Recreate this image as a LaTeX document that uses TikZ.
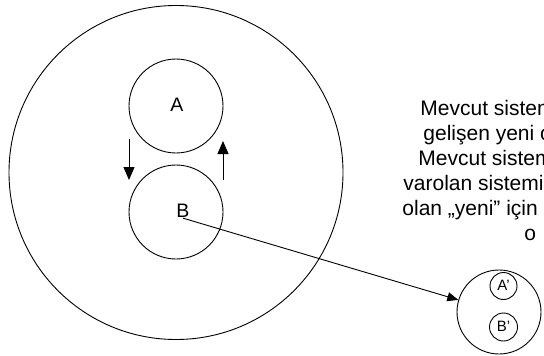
\documentclass[tikz,border=0pt]{standalone}
\usepackage{fontspec}
\setmainfont{Liberation Sans}
\usetikzlibrary{arrows.meta}
\begin{document}
\begin{tikzpicture}[x=1pt,y=-1pt,line width=0.9pt,
  ring/.style={draw,circle,inner sep=0pt},
  txt/.style={font=\fontsize{21}{25}\selectfont,anchor=base west,inner sep=0pt},
  lbl/.style={font=\fontsize{19.5}{22}\selectfont,inner sep=0pt},
  small/.style={font=\fontsize{15}{17}\selectfont,inner sep=0pt},
  arr/.style={-{Triangle[length=13pt,width=11pt]}},
  arrs/.style={-{Triangle[length=11pt,width=9pt]}}]
\useasboundingbox (0,0) rectangle (544,356);
\clip (0,0) rectangle (544,356);
\node[ring,minimum size=334pt] (outer) at (176,172.5) {};
\node[ring,minimum size=94pt] (A) at (176,106) {};
\node[lbl] (Alab) at (177,105) {A};
\node[ring,minimum size=94pt] (B) at (176,212) {};
\node[lbl] (Blab) at (183,211) {B};
\node[ring,minimum size=84pt] (sys) at (499,312) {};
\node[ring,minimum size=27pt] (A2) at (503.5,286) {};
\node[small] (A2lab) at (503.5,285.5) {A'};
\node[ring,minimum size=28pt] (B2) at (503.5,327) {};
\node[small] (B2lab) at (503.5,326.5) {B'};
\coordinate (d1) at (129,139);
\coordinate (d2) at (129,180);
\coordinate (u1) at (223,180);
\coordinate (u2) at (223,141);
\draw[arr] (d1) -- (d2);
\draw[arr] (u1) -- (u2);
\draw[arrs] (Blab.south) -- (sys);
\node[txt] (t1) at (420,115) {Mevcut sistem};
\node[txt] (t2) at (423,140) {gelişen yeni o};
\node[txt] (t3) at (418,165) {Mevcut sistem};
\node[txt] (t4) at (403,190) {varolan sistemi};
\node[txt] (t5) at (402,215) {olan „yeni" için};
\node[txt] (t6) at (524,240) {o};
\end{tikzpicture}
\end{document}
